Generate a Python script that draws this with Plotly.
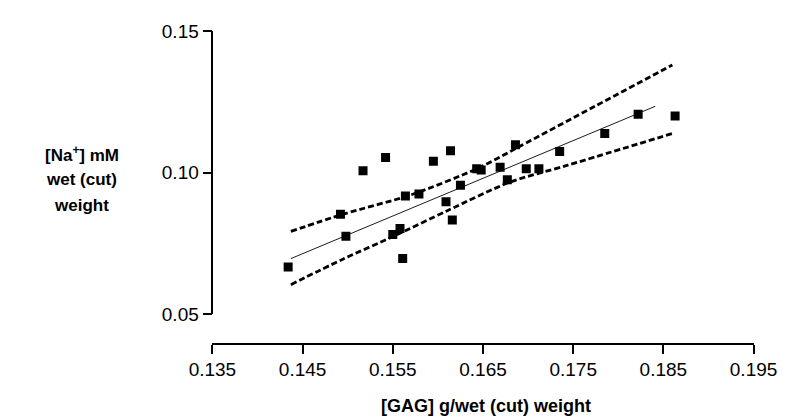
import plotly.graph_objects as go

# Data points
gag = [0.1434, 0.1492, 0.1498, 0.1517, 0.1542, 0.1550, 0.1558, 0.1561, 0.1564, 0.1579,
       0.1595, 0.1614, 0.1609, 0.1616, 0.1625, 0.1643, 0.1648, 0.1669, 0.1677, 0.1686,
       0.1698, 0.1712, 0.1735, 0.1785, 0.1822, 0.1863]
na = [0.0667, 0.0854, 0.0776, 0.1007, 0.1054, 0.0782, 0.0803, 0.0697, 0.0918, 0.0925,
      0.1041, 0.1078, 0.0898, 0.0833, 0.0956, 0.1014, 0.1010, 0.1020, 0.0976, 0.1099,
      0.1014, 0.1014, 0.1075, 0.1139, 0.1207, 0.1201]

# Regression line and confidence band
fit_x = [0.1437, 0.1841]
fit_y = [0.0697, 0.1235]
upper_x = [0.1437, 0.1495, 0.1570, 0.1645, 0.1690, 0.1774, 0.1860]
upper_y = [0.0793, 0.0854, 0.0922, 0.1017, 0.1092, 0.1235, 0.1381]
lower_x = [0.1437, 0.1494, 0.1553, 0.1611, 0.1679, 0.1744, 0.1860]
lower_y = [0.0605, 0.0694, 0.0779, 0.0867, 0.0966, 0.1027, 0.1139]

x_ticks = [0.135, 0.145, 0.155, 0.165, 0.175, 0.185, 0.195]
y_ticks = [0.05, 0.10, 0.15]
x_title = "[GAG] g/wet (cut) weight"
y_title_lines = ["[Na<sup>+</sup>] mM", "wet (cut)", "weight"]

W, H = 794, 419
dash_line = dict(color="black", width=2.8, dash="6px,3px", shape="spline", smoothing=0.8)

fig = go.Figure()
fig.add_trace(go.Scatter(x=upper_x, y=upper_y, mode="lines", line=dash_line, hoverinfo="skip"))
fig.add_trace(go.Scatter(x=lower_x, y=lower_y, mode="lines", line=dash_line, hoverinfo="skip"))
fig.add_trace(go.Scatter(x=fit_x, y=fit_y, mode="lines",
                         line=dict(color="black", width=0.9), hoverinfo="skip"))
fig.add_trace(go.Scatter(x=gag, y=na, mode="markers",
                         marker=dict(symbol="square", size=9, color="black")))

font = dict(family="Liberation Sans, Arial, sans-serif", color="black")
axis_common = dict(showline=True, linecolor="black", linewidth=1.6,
                   ticks="outside", ticklen=9, tickwidth=1.6, tickcolor="black",
                   showgrid=False, zeroline=False, tickfont=dict(size=19),
                   ticklabeloverflow="allow")

x_left, x_right = 192, 768
y_top_px, y_bot_px = 14, 312
fig.update_layout(
    width=W, height=H,
    margin=dict(l=0, r=0, t=0, b=0),
    paper_bgcolor="white", plot_bgcolor="white",
    showlegend=False,
    font=dict(size=19, **font),
    xaxis=dict(range=[0.135, 0.195], domain=[x_left / W, x_right / W], anchor="free",
               position=1 - 343 / H, tickvals=x_ticks, tickformat=".3f", **axis_common),
    yaxis=dict(range=[0.05, 0.15], domain=[1 - y_bot_px / H, 1 - y_top_px / H], anchor="free",
               position=x_left / W, tickvals=y_ticks, tickformat=".2f", **axis_common),
)

annotations = [dict(text="<b>" + x_title + "</b>", xref="paper", yref="paper",
                    x=(x_left + x_right) / 2 / W + 3 / W, y=1 - 408 / H, showarrow=False,
                    font=dict(size=18, **font), xanchor="center", yanchor="middle")]
for i, line in enumerate(y_title_lines):
    annotations.append(dict(text="<b>" + line + "</b>", xref="paper", yref="paper",
                            x=53 / W, y=1 - (143 + 27 * i) / H, showarrow=False,
                            font=dict(size=17, **font), xanchor="center", yanchor="middle"))
fig.update_layout(annotations=annotations)
fig.write_html("out.html")
